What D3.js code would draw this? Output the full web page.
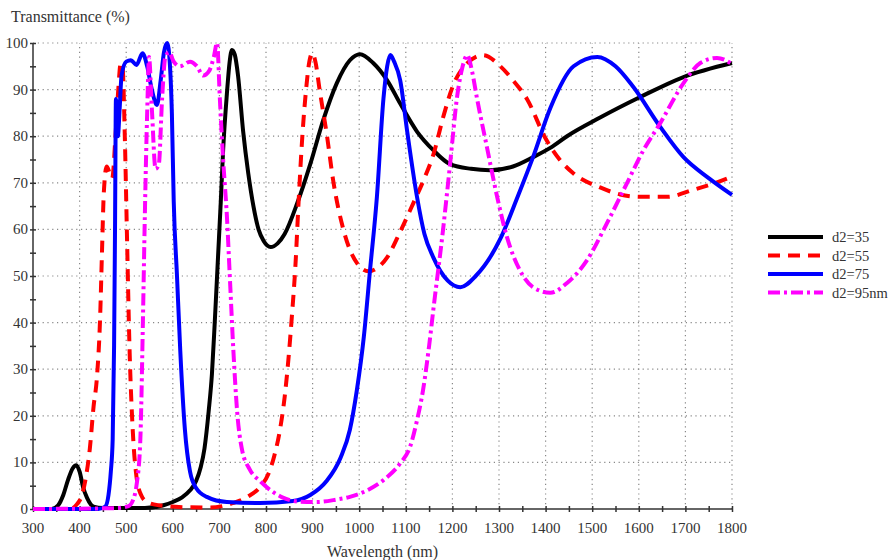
<!DOCTYPE html>
<html>
<head>
<meta charset="utf-8">
<title>Transmittance</title>
<style>
body { margin: 0; background: #fff; }
svg text { font-family: "Liberation Serif", "DejaVu Serif", serif; fill: #333; }
.grid line { stroke: #888; stroke-width: 1.2px; stroke-dasharray: 1.2,3.6; }
.axis line, .axis path { stroke: #333; stroke-width: 1.5px; fill: none; }
path.curve { fill: none; stroke-width: 4px; stroke-linejoin: round; }
</style>
</head>
<body>
<script src="https://cdn.jsdelivr.net/npm/d3@7"></script>
<script>

// wavelength (nm), transmittance (%)
var d35 = [[300,0],[340,0],[354,0.8],[365,3],[375,6.2],[385,8.7],[393,9.4],[400,8],[408,4.5],[416,2.4],[430,0.5],[450,0.2],[540,0.2],[580,0.8],[600,1.5],[620,2.5],[637,4],[650,6],[660,9],[668,13],[677,21],[684,29],[690,40],[697,54],[703,66],[708,77],[716,89],[722,96],[727,98.5],[733,97.5],[740,93],[751,81],[762,72],[773,65],[784,60],[795,57.5],[810,56.2],[825,57],[840,59],[867,65.6],[895,74],[923,83.5],[952,91.4],[980,96.3],[1002,97.6],[1030,95.7],[1060,92],[1088,87],[1124,81],[1159,77],[1195,74],[1240,73],[1281,72.7],[1330,73.5],[1373,75.5],[1410,77.5],[1446,80],[1517,84],[1603,88.4],[1696,92.7],[1800,95.7]];

var d55 = [[300,0],[380,0],[394,1],[405,3],[412,6],[422,13],[430,22],[437,28],[444,41],[448,55],[452,68],[458,73.5],[465,72],[470,71],[477,80],[483,90],[488,95.5],[492,95],[497,80],[502,57],[507,35],[514,17],[522,7],[532,3],[545,1.5],[570,0.8],[620,0.4],[680,0.3],[710,0.7],[730,1.3],[760,2.6],[787,4.7],[805,7.5],[818,11.5],[830,17],[840,24],[848,32],[856,42],[863,52],[870,66],[878,80],[886,90],[893,96],[899,97.8],[906,96],[915,90],[931,80],[944,70.6],[966,60],[995,52.8],[1020,51],[1040,51.8],[1060,54],[1088,59.5],[1116,65.6],[1140,71],[1159,76],[1180,84],[1200,90.5],[1230,95.5],[1266,97.4],[1303,95],[1330,92],[1360,88],[1400,79.5],[1430,75],[1460,72],[1517,69],[1560,67.5],[1603,67],[1661,67],[1717,68.5],[1760,69.8],[1800,71.3]];

var d75 = [[300,0],[440,0],[455,0.5],[462,3],[467,8],[471,15],[474,35],[476,60],[478,88],[480,85],[482,80],[486,86],[490,93],[500,96],[510,96.3],[522,95.3],[535,97.8],[545,95],[555,90],[566,86.7],[574,92],[581,98],[588,100],[594,95],[598,85],[602,66],[609,50],[616,34],[626,17],[637,8],[650,4.5],[673,2.6],[716,1.5],[787,1.3],[858,1.7],[895,3],[930,6],[960,11],[980,17],[995,25.5],[1010,37],[1023,51],[1038,67],[1052,88],[1060,95],[1067,97.4],[1075,96],[1088,92],[1103,81],[1124,67],[1140,59],[1159,54],[1190,49],[1217,47.6],[1250,50],[1303,58],[1340,67],[1373,75.5],[1410,86],[1460,95],[1511,97],[1550,95],[1588,90.6],[1646,82],[1696,75.5],[1750,71],[1800,67.4]];

var d95 = [[300,0],[480,0.2],[505,0.6],[515,2],[522,5],[530,14],[536,41],[540,63],[545,85],[549,97],[555,86],[563,73],[570,74],[577,88],[584,97],[592,98],[602,96],[615,95],[637,96],[652,95],[665,93],[678,94],[688,97],[695,100],[701,88],[708,75],[716,63],[723,48.5],[730,34],[738,21],[748,13],[765,8.5],[787,6],[810,4],[835,2.5],[870,1.6],[909,1.5],[950,2],[980,2.6],[1017,4],[1052,6.2],[1088,9.8],[1109,13.3],[1124,19],[1137,25.5],[1150,35],[1159,42.7],[1180,60],[1195,74],[1210,88.4],[1222,95],[1232,97.4],[1242,94],[1253,88],[1274,77.7],[1296,67],[1317,58.4],[1346,51],[1373,47.6],[1410,46.4],[1446,48.5],[1489,53.4],[1532,61.4],[1575,70],[1610,77],[1646,82.8],[1696,91.4],[1732,95.7],[1768,96.8],[1800,95.5]];

var seriesNames = ["d2=35", "d2=55", "d2=75", "d2=95nm"];
var xTicks = d3.range(300, 1801, 100);
var yTicks = d3.range(0, 101, 10);

var series = [
  {name: seriesNames[0], data: d35, color: "#000000", dash: null},
  {name: seriesNames[1], data: d55, color: "#ff0000", dash: "12,8"},
  {name: seriesNames[2], data: d75, color: "#0000ff", dash: null},
  {name: seriesNames[3], data: d95, color: "#ff00ff", dash: "12,4,3,4"}
];

var width = 896, height = 560;
var margin = {left: 33, top: 43, right: 164, bottom: 51};
var serif = "'Liberation Serif', 'DejaVu Serif', serif";

var x = d3.scaleLinear().domain([300, 1800]).range([margin.left, width - margin.right]);
var y = d3.scaleLinear().domain([0, 100]).range([height - margin.bottom, margin.top]);

var svg = d3.select("body").append("svg")
    .attr("width", width)
    .attr("height", height);

// dotted grid
var grid = svg.append("g").attr("class", "grid");
grid.selectAll("line.v")
    .data(xTicks.slice(1))
    .enter().append("line")
    .attr("x1", function(d) { return x(d); })
    .attr("x2", function(d) { return x(d); })
    .attr("y1", y(0))
    .attr("y2", y(100));
grid.selectAll("line.h")
    .data(yTicks.slice(1))
    .enter().append("line")
    .attr("x1", x(300))
    .attr("x2", x(1800))
    .attr("y1", function(d) { return y(d); })
    .attr("y2", function(d) { return y(d); });

// axes with ticks crossing the line
var xAxis = svg.append("g").attr("class", "axis")
    .attr("transform", "translate(0," + y(0) + ")")
    .call(d3.axisBottom(x).tickValues(d3.range(300, 1801, 50)).tickSize(6).tickFormat(""));
xAxis.selectAll(".tick line").attr("y1", -3).attr("y2", 3);
xAxis.select(".domain").attr("d", "M" + x(300) + ",0H" + x(1800));

var yAxis = svg.append("g").attr("class", "axis")
    .attr("transform", "translate(" + x(300) + ",0)")
    .call(d3.axisLeft(y).tickValues(d3.range(0, 101, 5)).tickSize(6).tickFormat(""));
yAxis.selectAll(".tick line").attr("x1", -3).attr("x2", 3);
yAxis.select(".domain").attr("d", "M0," + y(0) + "V" + y(100));

svg.append("g").selectAll("text")
    .data(xTicks)
    .enter().append("text")
    .attr("x", function(d) { return x(d); })
    .attr("y", y(0) + 24)
    .attr("text-anchor", "middle")
    .style("font-family", serif)
    .style("font-size", "15px")
    .text(function(d) { return d; });

svg.append("g").selectAll("text")
    .data(yTicks)
    .enter().append("text")
    .attr("x", x(300) - 5)
    .attr("y", function(d) { return y(d) + 5; })
    .attr("text-anchor", "end")
    .style("font-family", serif)
    .style("font-size", "15px")
    .text(function(d) { return d; });

svg.append("text")
    .attr("x", 11)
    .attr("y", 22)
    .style("font-family", serif)
    .style("font-size", "16px")
    .text("Transmittance (%)");

svg.append("text")
    .attr("x", x(1050))
    .attr("y", 557)
    .attr("text-anchor", "middle")
    .style("font-family", serif)
    .style("font-size", "16px")
    .text("Wavelength (nm)");

// curves
var line = d3.line()
    .x(function(d) { return x(d[0]); })
    .y(function(d) { return y(d[1]); })
    .curve(d3.curveMonotoneX);

svg.append("g").selectAll("path")
    .data(series)
    .enter().append("path")
    .attr("class", "curve")
    .attr("d", function(d) { return line(d.data); })
    .style("stroke", function(d) { return d.color; })
    .style("stroke-dasharray", function(d) { return d.dash; });

// legend
var legend = svg.append("g").selectAll("g")
    .data(series)
    .enter().append("g")
    .attr("transform", function(d, i) { return "translate(768," + (237 + i * 18.5) + ")"; });

legend.append("line")
    .attr("x1", 0)
    .attr("x2", 55)
    .style("stroke", function(d) { return d.color; })
    .style("stroke-width", 4)
    .style("stroke-dasharray", function(d) { return d.dash; });

legend.append("text")
    .attr("x", 64)
    .attr("y", 5)
    .style("font-family", serif)
    .style("font-size", "14.5px")
    .text(function(d) { return d.name; });

</script>
</body>
</html>
